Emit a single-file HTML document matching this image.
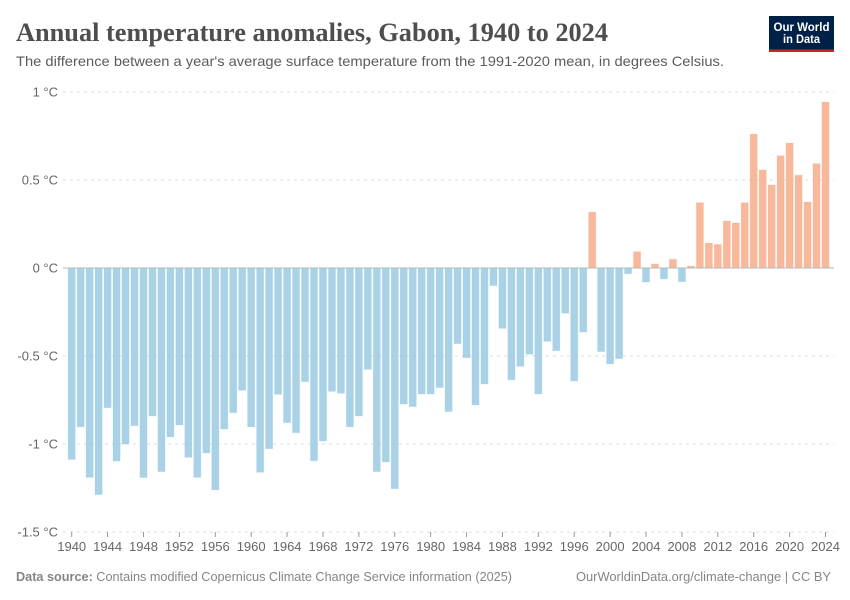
<!DOCTYPE html>
<html lang="en">
<head>
<meta charset="utf-8">
<title>Annual temperature anomalies, Gabon, 1940 to 2024</title>
<style>
html,body{margin:0;padding:0;background:#fff;width:850px;height:600px;overflow:hidden}
svg{display:block}
text{font-family:"Liberation Sans",sans-serif}
.title{font-family:"Liberation Serif",serif;font-weight:700;font-size:26px;fill:#4e4e4e}
.sub{font-size:14px;fill:#5b5b5b}
.tick{font-size:13px;fill:#666}
.foot{font-size:13px;fill:#858585}
</style>
</head>
<body>
<svg id="chart" xmlns="http://www.w3.org/2000/svg" width="850" height="600" viewBox="0 0 850 600">
  <rect width="850" height="600" fill="#fff"/>
  <text class="title" x="16" y="41" textLength="592" lengthAdjust="spacingAndGlyphs">Annual temperature anomalies, Gabon, 1940 to 2024</text>
  <text class="sub" x="16" y="66" textLength="708" lengthAdjust="spacingAndGlyphs">The difference between a year's average surface temperature from the 1991-2020 mean, in degrees Celsius.</text>
  <g>
    <rect x="769" y="16" width="65" height="36" fill="#002147"/>
    <rect x="769" y="49.5" width="65" height="2.5" fill="#ce261e"/>
    <text x="801.5" y="31" text-anchor="middle" font-size="12" font-weight="700" fill="#fff" textLength="56" lengthAdjust="spacingAndGlyphs">Our World</text>
    <text x="801.5" y="43" text-anchor="middle" font-size="12" font-weight="700" fill="#fff" textLength="37" lengthAdjust="spacingAndGlyphs">in Data</text>
  </g>
  <g id="grid"></g>
  <g id="yticks"></g>
  <g id="bars"></g>
  <line id="zero" stroke="#b8b8b8" stroke-width="1"/>
  <g id="xticks"></g>
  <text class="foot" x="16" y="581" textLength="496" lengthAdjust="spacingAndGlyphs"><tspan font-weight="700">Data source:</tspan> Contains modified Copernicus Climate Change Service information (2025)</text>
  <text class="foot" x="576" y="581" textLength="255" lengthAdjust="spacingAndGlyphs">OurWorldinData.org/climate-change | CC BY</text>
</svg>
<script>
var startYear = 1940;
var anomalies = [
  -1.088,-0.903,-1.19,-1.288,-0.794,-1.097,-1.0,-0.896,-1.191,-0.841,
  -1.157,-0.96,-0.892,-1.076,-1.19,-1.051,-1.261,-0.915,-0.822,-0.695,
  -0.903,-1.161,-1.027,-0.718,-0.879,-0.936,-0.646,-1.095,-0.983,-0.701,
  -0.712,-0.903,-0.841,-0.576,-1.157,-1.102,-1.254,-0.773,-0.788,-0.716,
  -0.716,-0.68,-0.816,-0.43,-0.51,-0.778,-0.659,-0.1,-0.343,-0.635,
  -0.559,-0.49,-0.716,-0.417,-0.47,-0.257,-0.642,-0.364,0.318,-0.475,
  -0.545,-0.515,-0.033,0.093,-0.08,0.023,-0.062,0.049,-0.078,0.011,
  0.371,0.142,0.134,0.267,0.256,0.371,0.761,0.557,0.472,0.638,
  0.71,0.527,0.375,0.593,0.943
];
var yTickValues = [1,0.5,0,-0.5,-1,-1.5];
var yTickLabels = ["1 °C","0.5 °C","0 °C","-0.5 °C","-1 °C","-1.5 °C"];
var xTickYears = [1940,1944,1948,1952,1956,1960,1964,1968,1972,1976,1980,1984,1988,1992,1996,2000,2004,2008,2012,2016,2020,2024];

var NS = "http://www.w3.org/2000/svg";
function yScale(v){ return 268 - v * 176; }
function xScale(yr){ return 71.7 + (yr - 1940) * (825.5 - 71.7) / 84; }
function make(tag, attrs, parent){
  var el = document.createElementNS(NS, tag);
  for (var k in attrs) el.setAttribute(k, attrs[k]);
  parent.appendChild(el);
  return el;
}
var gridG = document.getElementById("grid");
var yG = document.getElementById("yticks");
var barsG = document.getElementById("bars");
var xG = document.getElementById("xticks");

yTickValues.forEach(function(v, i){
  if (v !== 0) {
    var ln = make("line", {x1:63, x2:834, y1:yScale(v), y2:yScale(v), stroke:"#dddddd", "stroke-width":1, "stroke-dasharray":"3,4"}, gridG);
    
    
  }
  var t = make("text", {x:58, y:yScale(v)+4.5, "text-anchor":"end", "class":"tick"}, yG);
  t.textContent = yTickLabels[i];
  
  
});

var barW = 7.2;
anomalies.forEach(function(v, i){
  var yr = startYear + i;
  var y0 = yScale(0), y1 = yScale(v);
  var r = make("rect", {
    x: xScale(yr) - barW/2,
    y: Math.min(y0, y1),
    width: barW,
    height: Math.abs(y1 - y0),
    fill: v < 0 ? "#97c8e0" : "#f6a886",
    "fill-opacity": 0.82,
    stroke: v < 0 ? "#97c8e0" : "#f6a886",
    "stroke-opacity": 0.2,
    "stroke-width": 1
  }, barsG);
  
  
});

var zero = document.getElementById("zero");
zero.setAttribute("x1", 63);
zero.setAttribute("x2", 834);
zero.setAttribute("y1", yScale(0));
zero.setAttribute("y2", yScale(0));

xTickYears.forEach(function(yr){
  var x = xScale(yr);
  var tk = make("line", {x1:x, x2:x, y1:532, y2:537, stroke:"#999", "stroke-width":1}, xG);
  
  
  var t = make("text", {x:x, y:551, "text-anchor":"middle", "class":"tick"}, xG);
  t.textContent = yr;
  
  
});
</script>
</body>
</html>
